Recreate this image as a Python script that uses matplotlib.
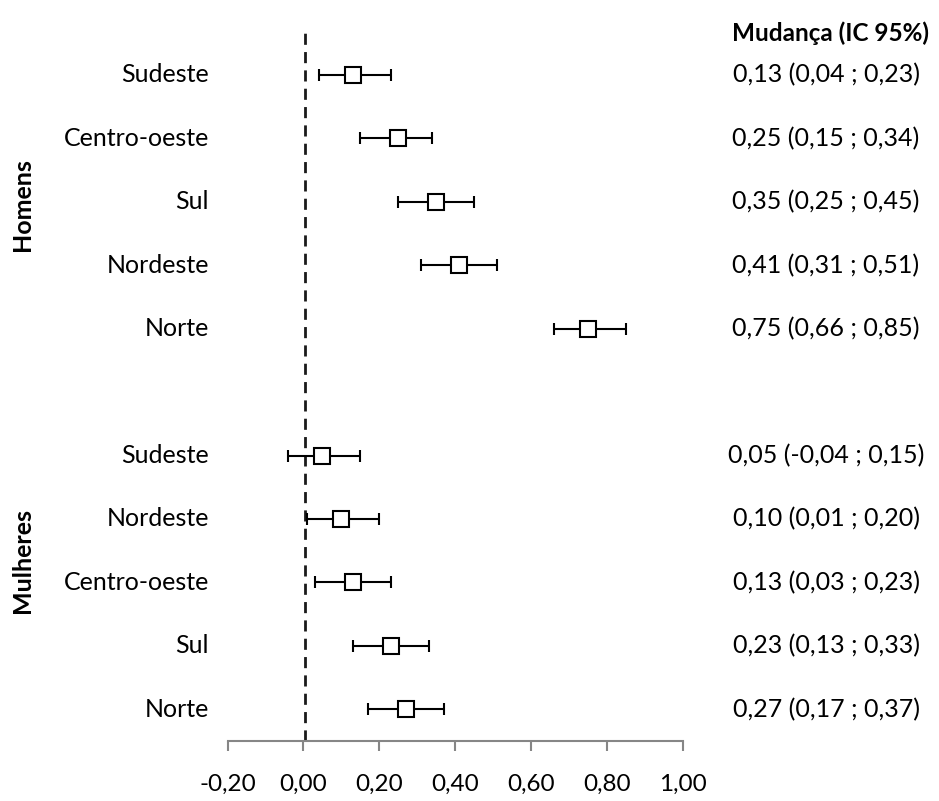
import numpy as np
import matplotlib.pyplot as plt

plt.rcParams['font.family'] = ['Lato', 'DejaVu Sans']

# Homens (top block) and Mulheres (bottom block), top to bottom
regioes_h = ['Sudeste', 'Centro-oeste', 'Sul', 'Nordeste', 'Norte']
est_h = [0.13, 0.25, 0.35, 0.41, 0.75]
lo_h = [0.04, 0.15, 0.25, 0.31, 0.66]
hi_h = [0.23, 0.34, 0.45, 0.51, 0.85]

regioes_m = ['Sudeste', 'Nordeste', 'Centro-oeste', 'Sul', 'Norte']
est_m = [0.05, 0.10, 0.13, 0.23, 0.27]
lo_m = [-0.04, 0.01, 0.03, 0.13, 0.17]
hi_m = [0.15, 0.20, 0.23, 0.33, 0.37]

xticks = [-0.2, 0.0, 0.2, 0.4, 0.6, 0.8, 1.0]


def fmt(v):
    return ('%.2f' % v).replace('.', ',')


fig = plt.figure(figsize=(9.39, 8.01), dpi=100)
ax = fig.add_axes([0.2423, 0.0749, 0.4851, 0.8839])

y_h = np.arange(10, 5, -1)
y_m = np.arange(4, -1, -1)

ax.axvline(0.005, color='#1a1a1a', lw=2, ls=(0, (4, 2.6)), zorder=1)

for ys, est, lo, hi in [(y_h, est_h, lo_h, hi_h), (y_m, est_m, lo_m, hi_m)]:
    est = np.array(est)
    err = [est - np.array(lo), np.array(hi) - est]
    ax.errorbar(est, ys, xerr=err, fmt='s', ms=11.5, mfc='white', mec='black',
                mew=1.5, ecolor='black', elinewidth=1.5, capsize=4,
                capthick=1.5, zorder=3)

ax.set_xlim(-0.2, 1.0)
ax.set_ylim(-0.5, 10.66)
ax.set_xticks(xticks)
ax.set_xticklabels([fmt(t) for t in xticks], fontsize=17.5)
ax.set_yticks([])
for s in ['top', 'right', 'left']:
    ax.spines[s].set_visible(False)
ax.spines['bottom'].set_color('#868686')
ax.spines['bottom'].set_linewidth(1.5)
ax.tick_params(axis='x', direction='out', length=7, width=1.5,
               color='#868686', pad=17)

# row labels at left and estimates at right
for ys, names, est, lo, hi in [(y_h, regioes_h, est_h, lo_h, hi_h),
                               (y_m, regioes_m, est_m, lo_m, hi_m)]:
    for y, n, e, l, h in zip(ys, names, est, lo, hi):
        ax.text(-0.0406, y, n, transform=ax.get_yaxis_transform(),
                ha='right', va='center', fontsize=18)
        ax.text(1.314, y, '%s (%s ; %s)' % (fmt(e), fmt(l), fmt(h)),
                transform=ax.get_yaxis_transform(),
                ha='center', va='center', fontsize=18)

ax.text(1.323, 10.66, 'Mudança (IC 95%)', transform=ax.get_yaxis_transform(),
        ha='center', va='center', fontsize=17.5, fontweight='bold')

ax.text(-0.449, 7.95, 'Homens', transform=ax.get_yaxis_transform(),
        ha='center', va='center', rotation=90, fontsize=18, fontweight='bold')
ax.text(-0.449, 2.35, 'Mulheres', transform=ax.get_yaxis_transform(),
        ha='center', va='center', rotation=90, fontsize=18, fontweight='bold')

fig.savefig('out.png', dpi=100)
